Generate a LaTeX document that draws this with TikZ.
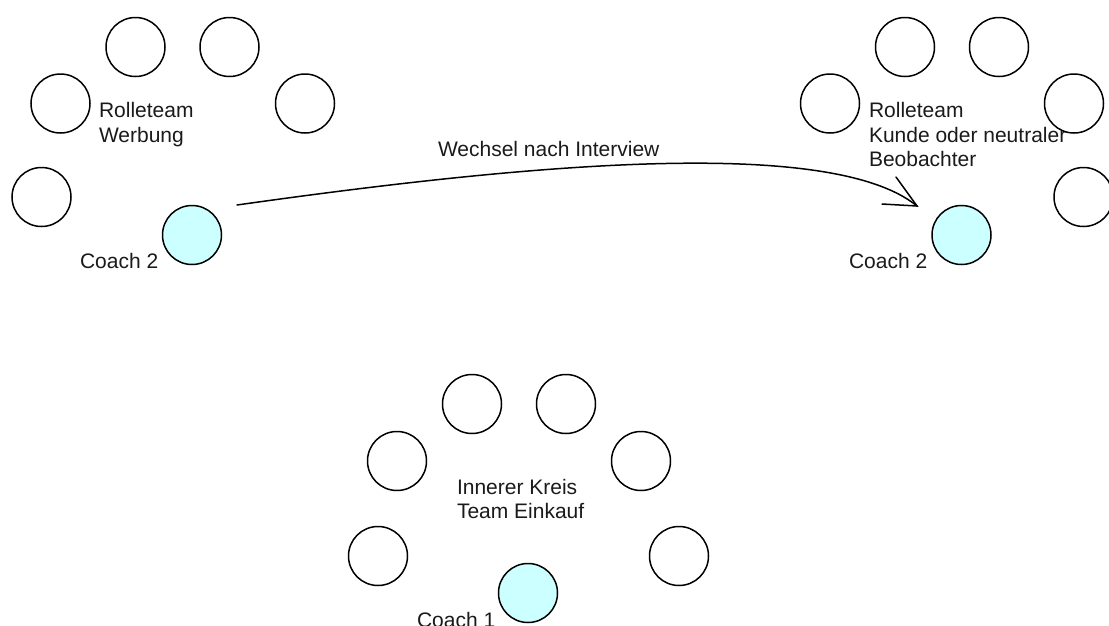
\documentclass[tikz,border=0pt]{standalone}
\usepackage{fontspec}
\setmainfont{Liberation Sans}
\definecolor{coachfill}{HTML}{CCFFFF}
\definecolor{ink}{HTML}{1A1A1A}
\tikzset{
  seat/.style={circle,draw=black,line width=1.5pt,fill=white,minimum size=59pt,inner sep=0pt,outer sep=0pt},
  coach/.style={seat,fill=coachfill},
  lbl/.style={anchor=base west,inner sep=0pt,outer sep=0pt,text=ink,font=\fontsize{21}{21}\selectfont},
}
\begin{document}
\begin{tikzpicture}[x=1pt,y=-1pt]
\useasboundingbox (0,0) rectangle (1109,625);
\clip (0,0) rectangle (1109,625);
% labels lie under the circles
\node[lbl] (t1a) at (99,117) {Rolleteam};
\node[lbl] (t1b) at (99,142.5) {Werbung};
\node[lbl] (t1c) at (80,268) {Coach 2};
\node[lbl] (t2a) at (869,117) {Rolleteam};
\node[lbl] (t2b) at (869,142.5) {Kunde oder neutraler};
\node[lbl] (t2c) at (869,166.5) {Beobachter};
\node[lbl] (t2d) at (849,268) {Coach 2};
\node[lbl] (t3a) at (457,494.5) {Innerer Kreis};
\node[lbl] (t3b) at (457,518.5) {Team Einkauf};
\node[lbl] (t3c) at (417,627.5) {Coach 1};
\node[lbl] (t4) at (438,156) {Wechsel nach Interview};
% left group
\node[seat] (a1) at (135.5,47) {};
\node[seat] (a2) at (229.5,47) {};
\node[seat] (a3) at (60.5,103.5) {};
\node[seat] (a4) at (305,103.5) {};
\node[seat] (a5) at (41.5,197) {};
\node[coach] (ac) at (192,235) {};
% right group
\node[seat] (b1) at (905,47) {};
\node[seat] (b2) at (999,47) {};
\node[seat] (b3) at (830,103.5) {};
\node[seat] (b4) at (1074,103.5) {};
\node[seat] (b5) at (1083.5,197) {};
\node[coach] (bc) at (961.5,235) {};
% bottom group
\node[seat] (c1) at (472,404) {};
\node[seat] (c2) at (566,404) {};
\node[seat] (c3) at (397,461) {};
\node[seat] (c4) at (641,461) {};
\node[seat] (c5) at (378,556) {};
\node[seat] (c6) at (679,556) {};
\node[coach] (cc) at (528,593) {};
% connector
\coordinate (from) at (237,205);
\coordinate (to) at (917,206);
\coordinate (barbA) at (882,204);
\coordinate (barbB) at (896,177);
\draw[line width=1.5pt,line cap=round] (from) .. controls (520,165) and (830,135) .. (to);
\draw[line width=1.5pt,line cap=round,line join=miter] (barbA) -- (to) -- (barbB);
\end{tikzpicture}
\end{document}
